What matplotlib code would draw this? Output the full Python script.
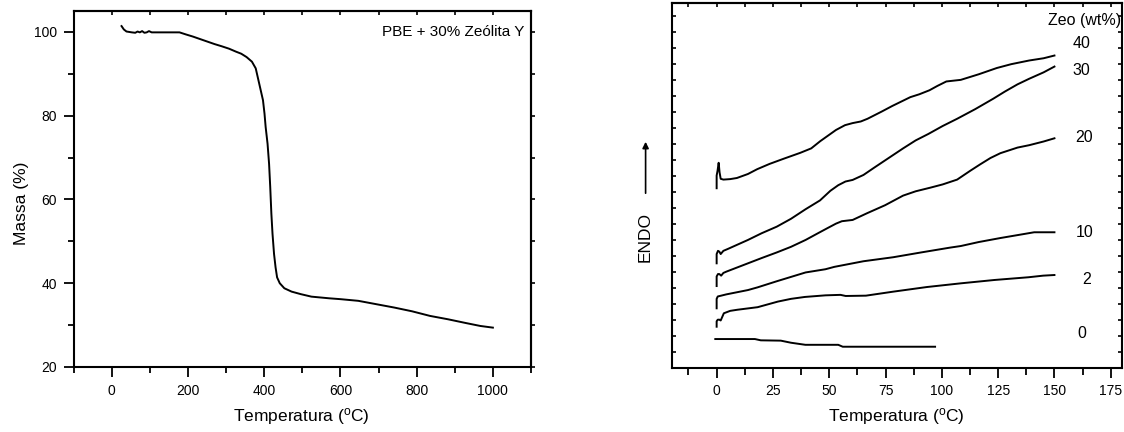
import matplotlib
matplotlib.use("Agg")
import matplotlib.pyplot as plt
from matplotlib.ticker import FixedLocator, NullFormatter

plt.rcParams['font.family'] = ['Liberation Sans', 'DejaVu Sans']
plt.rcParams['mathtext.fontset'] = 'custom'
plt.rcParams['mathtext.rm'] = 'Liberation Sans'
plt.rcParams['mathtext.it'] = 'Liberation Sans:italic'

# ---------------- data: TGA (left) ----------------
tga_temp = [26, 32, 39, 53, 62, 68, 74, 80, 86, 92, 98, 105, 130, 150, 178, 195, 213, 232,
            251, 270, 288, 308, 326, 340, 354, 368, 378, 384, 390, 397, 401, 404, 409, 413,
            416, 419, 422, 426, 430, 434, 441, 453, 472, 496, 524, 571, 600, 647, 694,
            741, 788, 835, 882, 929, 967, 1000]
tga_mass = [101.4, 100.6, 100.1, 99.9, 99.8, 100.1, 99.9, 100.2, 99.8, 99.9, 100.2, 99.9, 99.9,
            99.9, 99.9, 99.4, 98.9, 98.3, 97.7, 97.1, 96.6, 96.0, 95.3, 94.8, 94.0, 92.9,
            91.3, 88.9, 86.5, 83.7, 80.5, 77.3, 73.3, 68.5, 63.0, 56.6, 51.8, 47.0, 43.8,
            41.4, 40.0, 38.8, 38.0, 37.4, 36.8, 36.4, 36.2, 35.8, 35.0, 34.2, 33.3, 32.2,
            31.4, 30.5, 29.8, 29.4]

# ---------------- data: DSC (right) ----------------
zeo_labels = ['40', '30', '20', '10', '2', '0']

dsc40_t = [0, 0, 0.4, 0.9, 1.3, 1.8, 3, 6, 9, 13.9, 18, 23.5, 29.9, 37.1, 42, 46, 50, 53, 57,
           60.4, 64, 67, 73.3, 78, 86, 90, 94.5, 98, 102, 108.4, 116.4, 124.4, 130.8,
           138.8, 145.2, 150]
dsc40_y = [11.21, 12.0, 12.3, 12.8, 12.2, 11.8, 11.75, 11.78, 11.85, 12.1, 12.4, 12.73,
           13.06, 13.42, 13.7, 14.15, 14.55, 14.85, 15.15, 15.28, 15.38, 15.55, 16.0, 16.35,
           16.9, 17.08, 17.33, 17.6, 17.88, 17.98, 18.33, 18.72, 18.96, 19.19, 19.33, 19.5]

dsc30_t = [0, 0, 0.6, 1.2, 1.8, 3, 5, 13.9, 20, 26.7, 33, 39.5, 45.9, 50.5, 54, 57.2, 60.4,
           65.2, 70, 74.8, 82.8, 88.4, 94, 100.4, 106.8, 114.8, 122.8, 128, 133.6, 138.8,
           145.2, 150]
dsc30_y = [6.52, 7.1, 7.3, 7.25, 7.1, 7.3, 7.42, 7.98, 8.4, 8.81, 9.3, 9.9, 10.45, 11.05,
           11.4, 11.63, 11.73, 12.04, 12.5, 12.95, 13.7, 14.2, 14.6, 15.1, 15.55, 16.15,
           16.8, 17.25, 17.7, 18.05, 18.45, 18.81]

dsc20_t = [0, 0, 0.6, 1.2, 2, 3, 4.3, 13.9, 20, 26.7, 33, 39.5, 45, 49.1, 53, 55.6, 60.4,
           66.8, 74.8, 82.8, 88.4, 95, 100.4, 106.8, 112.6, 117, 121.6, 126, 133.6, 138.8,
           145.2, 150]
dsc20_y = [5.10, 5.7, 5.85, 5.85, 5.75, 5.92, 6.0, 6.52, 6.85, 7.2, 7.55, 7.98, 8.4, 8.71,
           9.0, 9.15, 9.23, 9.65, 10.15, 10.75, 11.02, 11.25, 11.45, 11.75, 12.3, 12.7,
           13.1, 13.4, 13.75, 13.9, 14.13, 14.33]

dsc10_t = [0, 0, 0.5, 2, 4.3, 13.9, 18.2, 26.7, 39.5, 48.3, 52.3, 65.2, 78.4, 90.8, 103.6,
           108.4, 116.4, 126, 135.6, 141, 150]
dsc10_y = [3.71, 4.3, 4.45, 4.5, 4.58, 4.85, 5.02, 5.4, 5.95, 6.15, 6.3, 6.65, 6.9, 7.2,
           7.5, 7.6, 7.85, 8.1, 8.33, 8.46, 8.46]

dsc2_t = [0, 0, 0.5, 1.2, 1.8, 3.2, 6, 9.2, 18.2, 27.2, 33, 39.2, 48.3, 55, 57.3, 66.3,
          78.4, 93.4, 108.4, 123.4, 138.5, 145, 150]
dsc2_y = [2.56, 2.9, 3.0, 3.0, 2.95, 3.4, 3.55, 3.62, 3.78, 4.13, 4.3, 4.42, 4.52, 4.55,
          4.48, 4.5, 4.75, 5.04, 5.27, 5.48, 5.65, 5.75, 5.79]

dsc0_t = [-0.6, 17, 19.6, 28.5, 33, 39.4, 54, 56, 97]
dsc0_y = [1.79, 1.79, 1.71, 1.69, 1.56, 1.43, 1.43, 1.31, 1.31]

dsc_t = [dsc40_t, dsc30_t, dsc20_t, dsc10_t, dsc2_t, dsc0_t]
dsc_y = [dsc40_y, dsc30_y, dsc20_y, dsc10_y, dsc2_y, dsc0_y]

# ---------------- figure ----------------
W, H = 1124, 432
fig = plt.figure(figsize=(W / 100, H / 100), dpi=100)

def frac(l, t, r, b):
    return [l / W, 1 - b / H, (r - l) / W, (b - t) / H]

lw_spine = 1.5
tick_fs = 10
lab_fs = 12.5

# ---- left panel ----
axL = fig.add_axes(frac(73.5, 11, 531, 367))
axL.plot(tga_temp, tga_mass, color='black', lw=1.4)
axL.set_xlim(-100, 1100)
axL.set_ylim(20, 105)
axL.xaxis.set_major_locator(FixedLocator([0, 200, 400, 600, 800, 1000]))
axL.xaxis.set_minor_locator(FixedLocator([-100, 100, 300, 500, 700, 900, 1100]))
axL.yaxis.set_major_locator(FixedLocator([20, 40, 60, 80, 100]))
axL.yaxis.set_minor_locator(FixedLocator([30, 50, 70, 90]))
axL.tick_params(which='major', direction='out', length=7, width=1.3, labelsize=tick_fs, pad=5)
axL.tick_params(which='minor', direction='out', length=4, width=1.3)
for s in axL.spines.values():
    s.set_linewidth(lw_spine)
secT = axL.secondary_xaxis('top')
secT.set_xticks(list(range(-100, 1101, 100)))
secT.tick_params(direction='in', length=3, width=1.2, labeltop=False)
secR = axL.secondary_yaxis('right')
secR.set_yticks(list(range(20, 101, 10)))
secR.tick_params(direction='out', length=3, width=1.2, labelright=False)
for sec in (secT, secR):
    for s in sec.spines.values():
        s.set_linewidth(lw_spine)

axL.set_xlabel('Temperatura ($^{\\mathrm{o}}$C)', fontsize=lab_fs)
axL.xaxis.label.set_verticalalignment('center')
axL.xaxis.set_label_coords(0.497, -0.14)
axL.set_ylabel('Massa (%)', fontsize=lab_fs)
axL.yaxis.label.set_verticalalignment('center')
axL.yaxis.set_label_coords(-0.113, 0.46)
axL.text(1082, 100, 'PBE + 30% Zeólita Y', ha='right', va='center', fontsize=11)

# ---- right panel ----
axR = fig.add_axes(frac(671.6, 2.7, 1122, 367.7))
for t, y in zip(dsc_t, dsc_y):
    axR.plot(t, y, color='black', lw=1.4)
axR.set_xlim(-20, 180)
axR.set_ylim(0, 22.8)
axR.xaxis.set_major_locator(FixedLocator([0, 25, 50, 75, 100, 125, 150, 175]))
axR.xaxis.set_minor_locator(FixedLocator([-12.5, 12.5, 37.5, 62.5, 87.5, 112.5, 137.5, 162.5]))
axR.yaxis.set_major_locator(FixedLocator(list(range(1, 23))))
axR.yaxis.set_major_formatter(NullFormatter())
axR.tick_params(axis='x', which='major', direction='out', length=7, width=1.3,
                labelsize=tick_fs, pad=5)
axR.tick_params(axis='x', which='minor', direction='out', length=5, width=1.3)
axR.tick_params(axis='y', which='major', direction='in', length=3, width=1.2,
                left=True, right=True, labelleft=False)
for s in axR.spines.values():
    s.set_linewidth(lw_spine)
secRT = axR.secondary_xaxis('top')
secRT.set_xticks([-12.5 + 12.5 * i for i in range(16)])
secRT.tick_params(direction='in', length=3, width=1.2, labeltop=False)
for s in secRT.spines.values():
    s.set_linewidth(lw_spine)

axR.set_xlabel('Temperatura ($^{\\mathrm{o}}$C)', fontsize=lab_fs)
axR.xaxis.label.set_verticalalignment('center')
axR.xaxis.set_label_coords(0.499, -0.135)

label_pos = [(162, 20.27), (162, 18.54), (163.3, 14.4), (163.3, 8.46), (164.5, 5.48), (162, 2.15)]
for lab, (x, y) in zip(zeo_labels, label_pos):
    axR.text(x, y, lab, ha='center', va='center', fontsize=11.5)
axR.text(179.6, 21.69, 'Zeo (wt%)', ha='right', va='center', fontsize=11.5)

fig.text(645.6 / W, 1 - 236.7 / H, 'ENDO', rotation=90, ha='center', va='center', fontsize=lab_fs)
fig.add_artist(matplotlib.patches.FancyArrowPatch(
    (645.6 / W, 1 - 196 / H), (645.6 / W, 1 - 139 / H), transform=fig.transFigure,
    arrowstyle='-|>', mutation_scale=9, lw=1.2, color='black'))

fig.savefig('out.png', dpi=100)
